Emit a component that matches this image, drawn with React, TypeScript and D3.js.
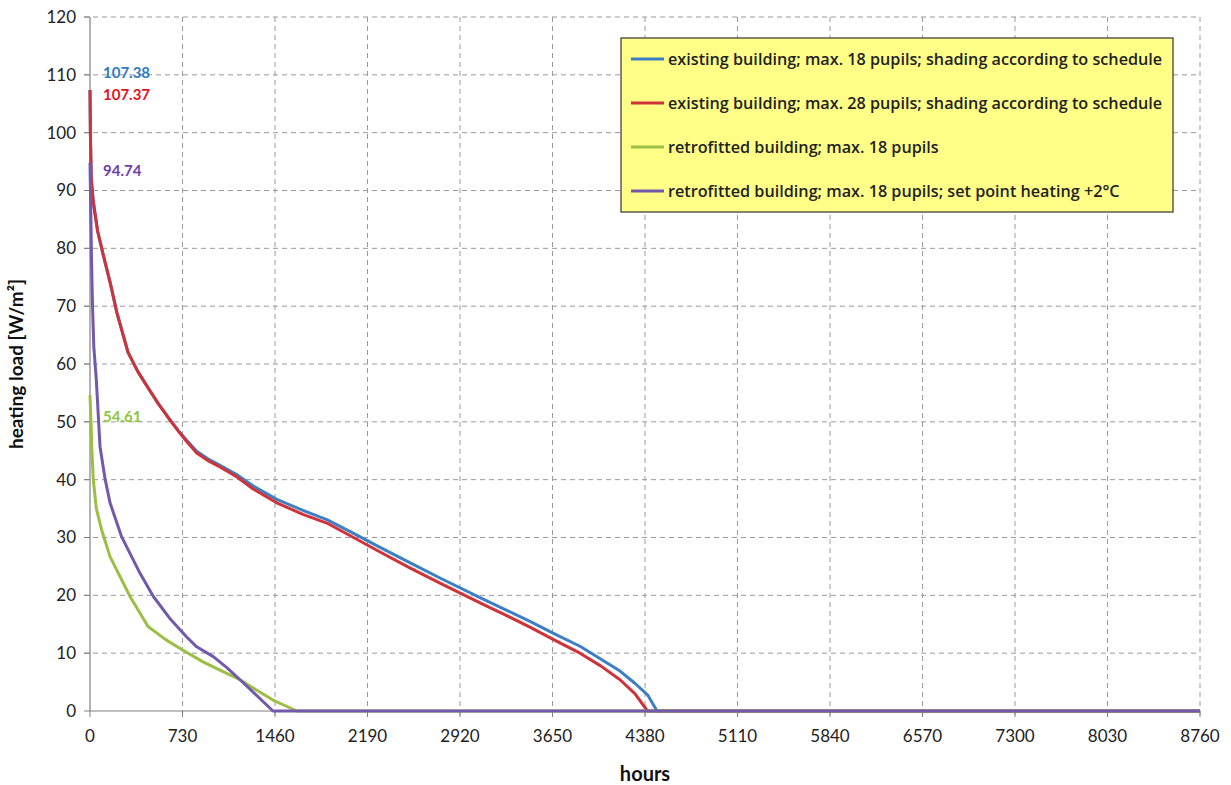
import React from "react";
import * as d3 from "d3";

const xTicks = [0, 730, 1460, 2190, 2920, 3650, 4380, 5110, 5840, 6570, 7300, 8030, 8760];
const yTicks = [0, 10, 20, 30, 40, 50, 60, 70, 80, 90, 100, 110, 120];

const seriesNames = [
  "existing building; max. 18 pupils; shading according to schedule",
  "existing building; max. 28 pupils; shading according to schedule",
  "retrofitted building; max. 18 pupils",
  "retrofitted building; max. 18 pupils; set point heating +2°C",
];
const seriesColors = ["#3d7fc6", "#cf3339", "#9bbf45", "#7359ad"];
const labelColors = ["#2f7cc2", "#e0141e", "#8fc540", "#7040a8"];
const peakLabels = ["107.38", "107.37", "54.61", "94.74"];

const existing18: [number, number][] = [
  [0, 107.38], [3, 100], [10, 92], [26, 88], [60, 83], [103, 79], [160, 74], [213, 68.8],
  [300, 62], [380, 58.6], [458, 55.9], [540, 53.1], [631, 50.4], [700, 48.4], [763, 46.8],
  [842, 44.9], [930, 43.6], [1026, 42.5], [1157, 40.9], [1288, 38.9], [1474, 36.6],
  [1680, 34.7], [1869, 33.1], [2080, 30.7], [2289, 28.3], [2520, 25.7], [2762, 23],
  [3078, 19.6], [3260, 17.7], [3472, 15.5], [3670, 13.3], [3867, 11.2], [4030, 9],
  [4183, 6.9], [4300, 4.8], [4400, 2.8], [4475, 0], [8760, 0],
];
const existing28: [number, number][] = [
  [0, 107.37], [3, 100], [10, 92], [26, 88], [60, 83], [103, 79], [160, 74], [213, 68.8],
  [300, 62], [380, 58.6], [458, 55.9], [540, 53.1], [631, 50.3], [700, 48.3], [763, 46.6],
  [842, 44.6], [930, 43.3], [1026, 42.2], [1157, 40.5], [1288, 38.4], [1474, 36],
  [1680, 34], [1869, 32.5], [2080, 30], [2289, 27.5], [2520, 24.8], [2762, 22.1],
  [3078, 18.7], [3260, 16.8], [3472, 14.5], [3670, 12.2], [3867, 10], [4030, 7.8],
  [4183, 5.4], [4300, 3], [4400, 0], [8760, 0],
];
const retro18: [number, number][] = [
  [0, 54.61], [8, 50], [15, 45], [26, 40], [50, 35], [92, 31.3], [158, 26.7], [316, 19.8],
  [458, 14.6], [600, 12.3], [734, 10.5], [892, 8.5], [1050, 6.8], [1184, 5.4], [1300, 3.8],
  [1444, 1.9], [1633, 0], [8760, 0],
];
const retro18sp: [number, number][] = [
  [0, 94.74], [5, 88], [12, 78], [20, 70], [30, 63], [50, 57.2], [79, 45.7], [120, 40],
  [158, 36], [250, 30.1], [395, 23.8], [500, 19.8], [630, 16], [763, 12.8], [842, 11.1],
  [973, 9.4], [1080, 7.5], [1184, 5.4], [1300, 3], [1444, 0], [8760, 0],
];
const allSeries = [existing18, existing28, retro18, retro18sp];

const W = 1231, H = 785;
const left = 90, right = 1200, top = 17, bottom = 711;

export default function App() {
  const x = d3.scaleLinear().domain([0, 8760]).range([left, right]);
  const y = d3.scaleLinear().domain([0, 120]).range([bottom, top]);
  const line = d3.line<[number, number]>().x(d => x(d[0])).y(d => y(d[1]));
  const labelOffsets = [-17, 5, 22, 8];
  const tickFont = "Lato, 'Open Sans', sans-serif";

  return (
    <svg width={W} height={H} style={{ position: "absolute", left: 0, top: 0, background: "#fff" }}
      fontFamily={tickFont}>
      <rect width={W} height={H} fill="#fff" />
      {yTicks.filter(t => t > 0).map(t => (
        <line key={"gy" + t} x1={left - 6} x2={right} y1={y(t)} y2={y(t)} stroke="#9a9a9a"
          strokeDasharray="5,4" strokeWidth={1} />
      ))}
      {xTicks.filter(t => t > 0).map(t => (
        <line key={"gx" + t} x1={x(t)} x2={x(t)} y1={top} y2={bottom + 6} stroke="#9a9a9a"
          strokeDasharray="5,4" strokeWidth={1} />
      ))}
      <line x1={left} x2={left} y1={top} y2={bottom} stroke="#808080" strokeWidth={1.2} />
      <line x1={left} x2={right} y1={bottom} y2={bottom} stroke="#808080" strokeWidth={1.2} />
      {yTicks.map(t => (
        <g key={"ty" + t}>
          <line x1={left - 6} x2={left} y1={y(t)} y2={y(t)} stroke="#808080" />
          <text x={left - 14} y={y(t)} dy="0.35em" textAnchor="end" fontSize={17} fill="#222">{t}</text>
        </g>
      ))}
      {xTicks.map(t => (
        <g key={"tx" + t}>
          <line x1={x(t)} x2={x(t)} y1={bottom} y2={bottom + 6} stroke="#808080" />
          <text x={x(t)} y={bottom + 31} textAnchor="middle" fontSize={17} fill="#222">{t}</text>
        </g>
      ))}
      {allSeries.map((s, i) => (
        <path key={"s" + i} d={line(s) || ""} fill="none" stroke={seriesColors[i]} strokeWidth={3}
          strokeLinejoin="round" />
      ))}
      {allSeries.map((s, i) => (
        <text key={"pl" + i} x={x(0) + 13} y={y(s[0][1]) + labelOffsets[i]} dy="0.35em"
          fontSize={15} fontWeight="bold" fill={labelColors[i]}>{peakLabels[i]}</text>
      ))}
      <text transform={`translate(23,${(top + bottom) / 2}) rotate(-90)`} textAnchor="middle"
        fontSize={19} fontWeight="bold" fill="#111">heating load [W/m²]</text>
      <text x={645} y={781} textAnchor="middle" fontSize={20} fontWeight="bold" fill="#111">hours</text>
      <rect x={621} y={38} width={552} height={174} fill="#ffff88" stroke="#333" strokeWidth={1.2} />
      {seriesNames.map((n, i) => (
        <g key={"lg" + i}>
          <line x1={631} x2={664} y1={59 + i * 44} y2={59 + i * 44} stroke={seriesColors[i]} strokeWidth={3} />
          <text x={668} y={59 + i * 44} dy="0.35em" fontSize={16.2} fontWeight="600"
            fontFamily="'Open Sans', sans-serif" fill="#222">{n}</text>
        </g>
      ))}
    </svg>
  );
}
